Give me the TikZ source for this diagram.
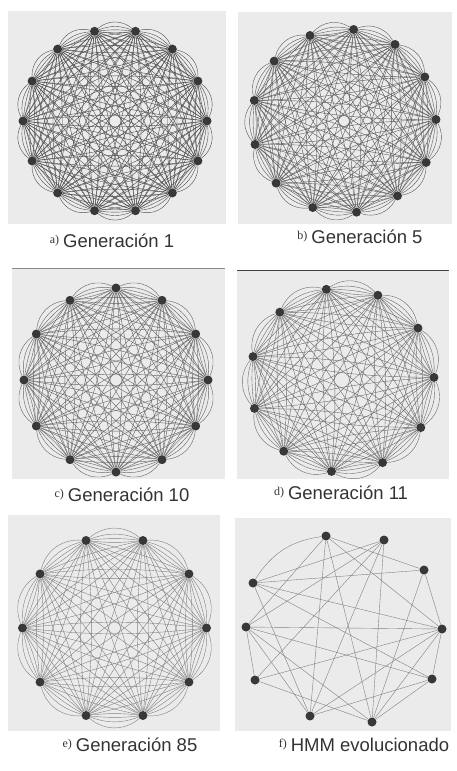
\documentclass[tikz,border=0pt]{standalone}
\usepackage{fontspec}
\setmainfont{Liberation Sans}
\newfontfamily\capserif{Liberation Serif}
\usetikzlibrary{calc,backgrounds}

\tikzset{
  state/.style={circle, fill=black!78, inner sep=0pt, minimum size=9pt},
  link/.style={draw=black!#1, line width=0.4pt},
  panel/.style={fill=black!8, draw=none},
  caption/.style={font=\fontsize{18.5}{21}\selectfont, text=black!80, inner sep=0pt},
}
\newcommand\capmark[1]{\raisebox{4pt}{\capserif\fontsize{12}{13}\selectfont #1}\hspace{4pt}}

\begin{document}
\begin{tikzpicture}[x=1pt,y=-1pt]
\useasboundingbox (0,0) rectangle (456,771);
% fondo de cada panel
\begin{scope}[on background layer]
\fill[panel] (8,11) rectangle (226,224);
\fill[panel] (238,12) rectangle (452,224);
\fill[panel] (12,268) rectangle (225,479);
\fill[panel] (237,270) rectangle (449,479);
\fill[panel] (8,515) rectangle (220,731);
\fill[panel] (235,518) rectangle (451,731);
\end{scope}
\draw[black!45, line width=0.6pt] (12,268) -- (225,268);
\draw[black!75, line width=0.6pt] (237,270) -- (449,270);

% grafos completos a)--e)
\foreach \p/\cx/\cy/\n/\s/\t in {a/115/121/14/102.86/70, b/344/121/13/84/65, c/116/380/12/90/62, d/342/380/11/99.8/58, e/114.5/628/10/108/50}{
  \foreach \i in {1,...,\n}
    \node[state] (\p\i) at ($(\cx,\cy)+({360*(\i-1)/\n-\s}:92)$) {};
  \begin{scope}[on background layer]
  \foreach \i in {1,...,\n}{
    \pgfmathtruncatemacro\k{mod(\i,\n)+1}
    \draw[link=\t] (\p\i) to[bend left=40] (\p\k);
    \draw[link=\t] (\p\i) to[bend left=20] (\p\k);
    \foreach \j in {1,...,\n}{
      \ifnum\i<\j
        \draw[link=\t] (\p\i) to[bend left=6] (\p\j);
        \draw[link=\t] (\p\i) to[bend right=6] (\p\j);
      \fi
    }
  }
  \end{scope}
}

% f) HMM evolucionado
\node[state] (f1) at (326,536) {};
\node[state] (f2) at (384,540) {};
\node[state] (f3) at (424,570) {};
\node[state] (f4) at (442,629) {};
\node[state] (f5) at (432,679) {};
\node[state] (f6) at (372,722) {};
\node[state] (f7) at (310,716) {};
\node[state] (f8) at (255,680) {};
\node[state] (f9) at (246,627) {};
\node[state] (f10) at (253,583) {};
\begin{scope}[on background layer]
\draw[link=50] (f1) to[bend right=25] (f10);
\foreach \u/\v in {f1/f7, f1/f6, f1/f4, f1/f3, f1/f9, f2/f10, f2/f9, f2/f6, f2/f7, f2/f8,
  f3/f10, f3/f4, f3/f6, f4/f9, f4/f10, f4/f8, f4/f5, f4/f6, f4/f7,
  f5/f9, f5/f10, f5/f6, f5/f7, f6/f9, f6/f8, f7/f9, f7/f10, f8/f9}
  \draw[link=50] (\u) -- (\v);
\end{scope}

% rotulos
\node[caption] (capA) at (112,241) {\capmark{a)}Generación 1};
\node[caption] (capB) at (360,237) {\capmark{b)}Generación 5};
\node[caption] (capC) at (122,495) {\capmark{c)}Generación 10};
\node[caption] (capD) at (341,493) {\capmark{d)}Generación 11};
\node[caption] (capE) at (130,745) {\capmark{e)}Generación 85};
\node[caption] (capF) at (364,745) {\capmark{f)}HMM evolucionado};
\end{tikzpicture}
\end{document}
